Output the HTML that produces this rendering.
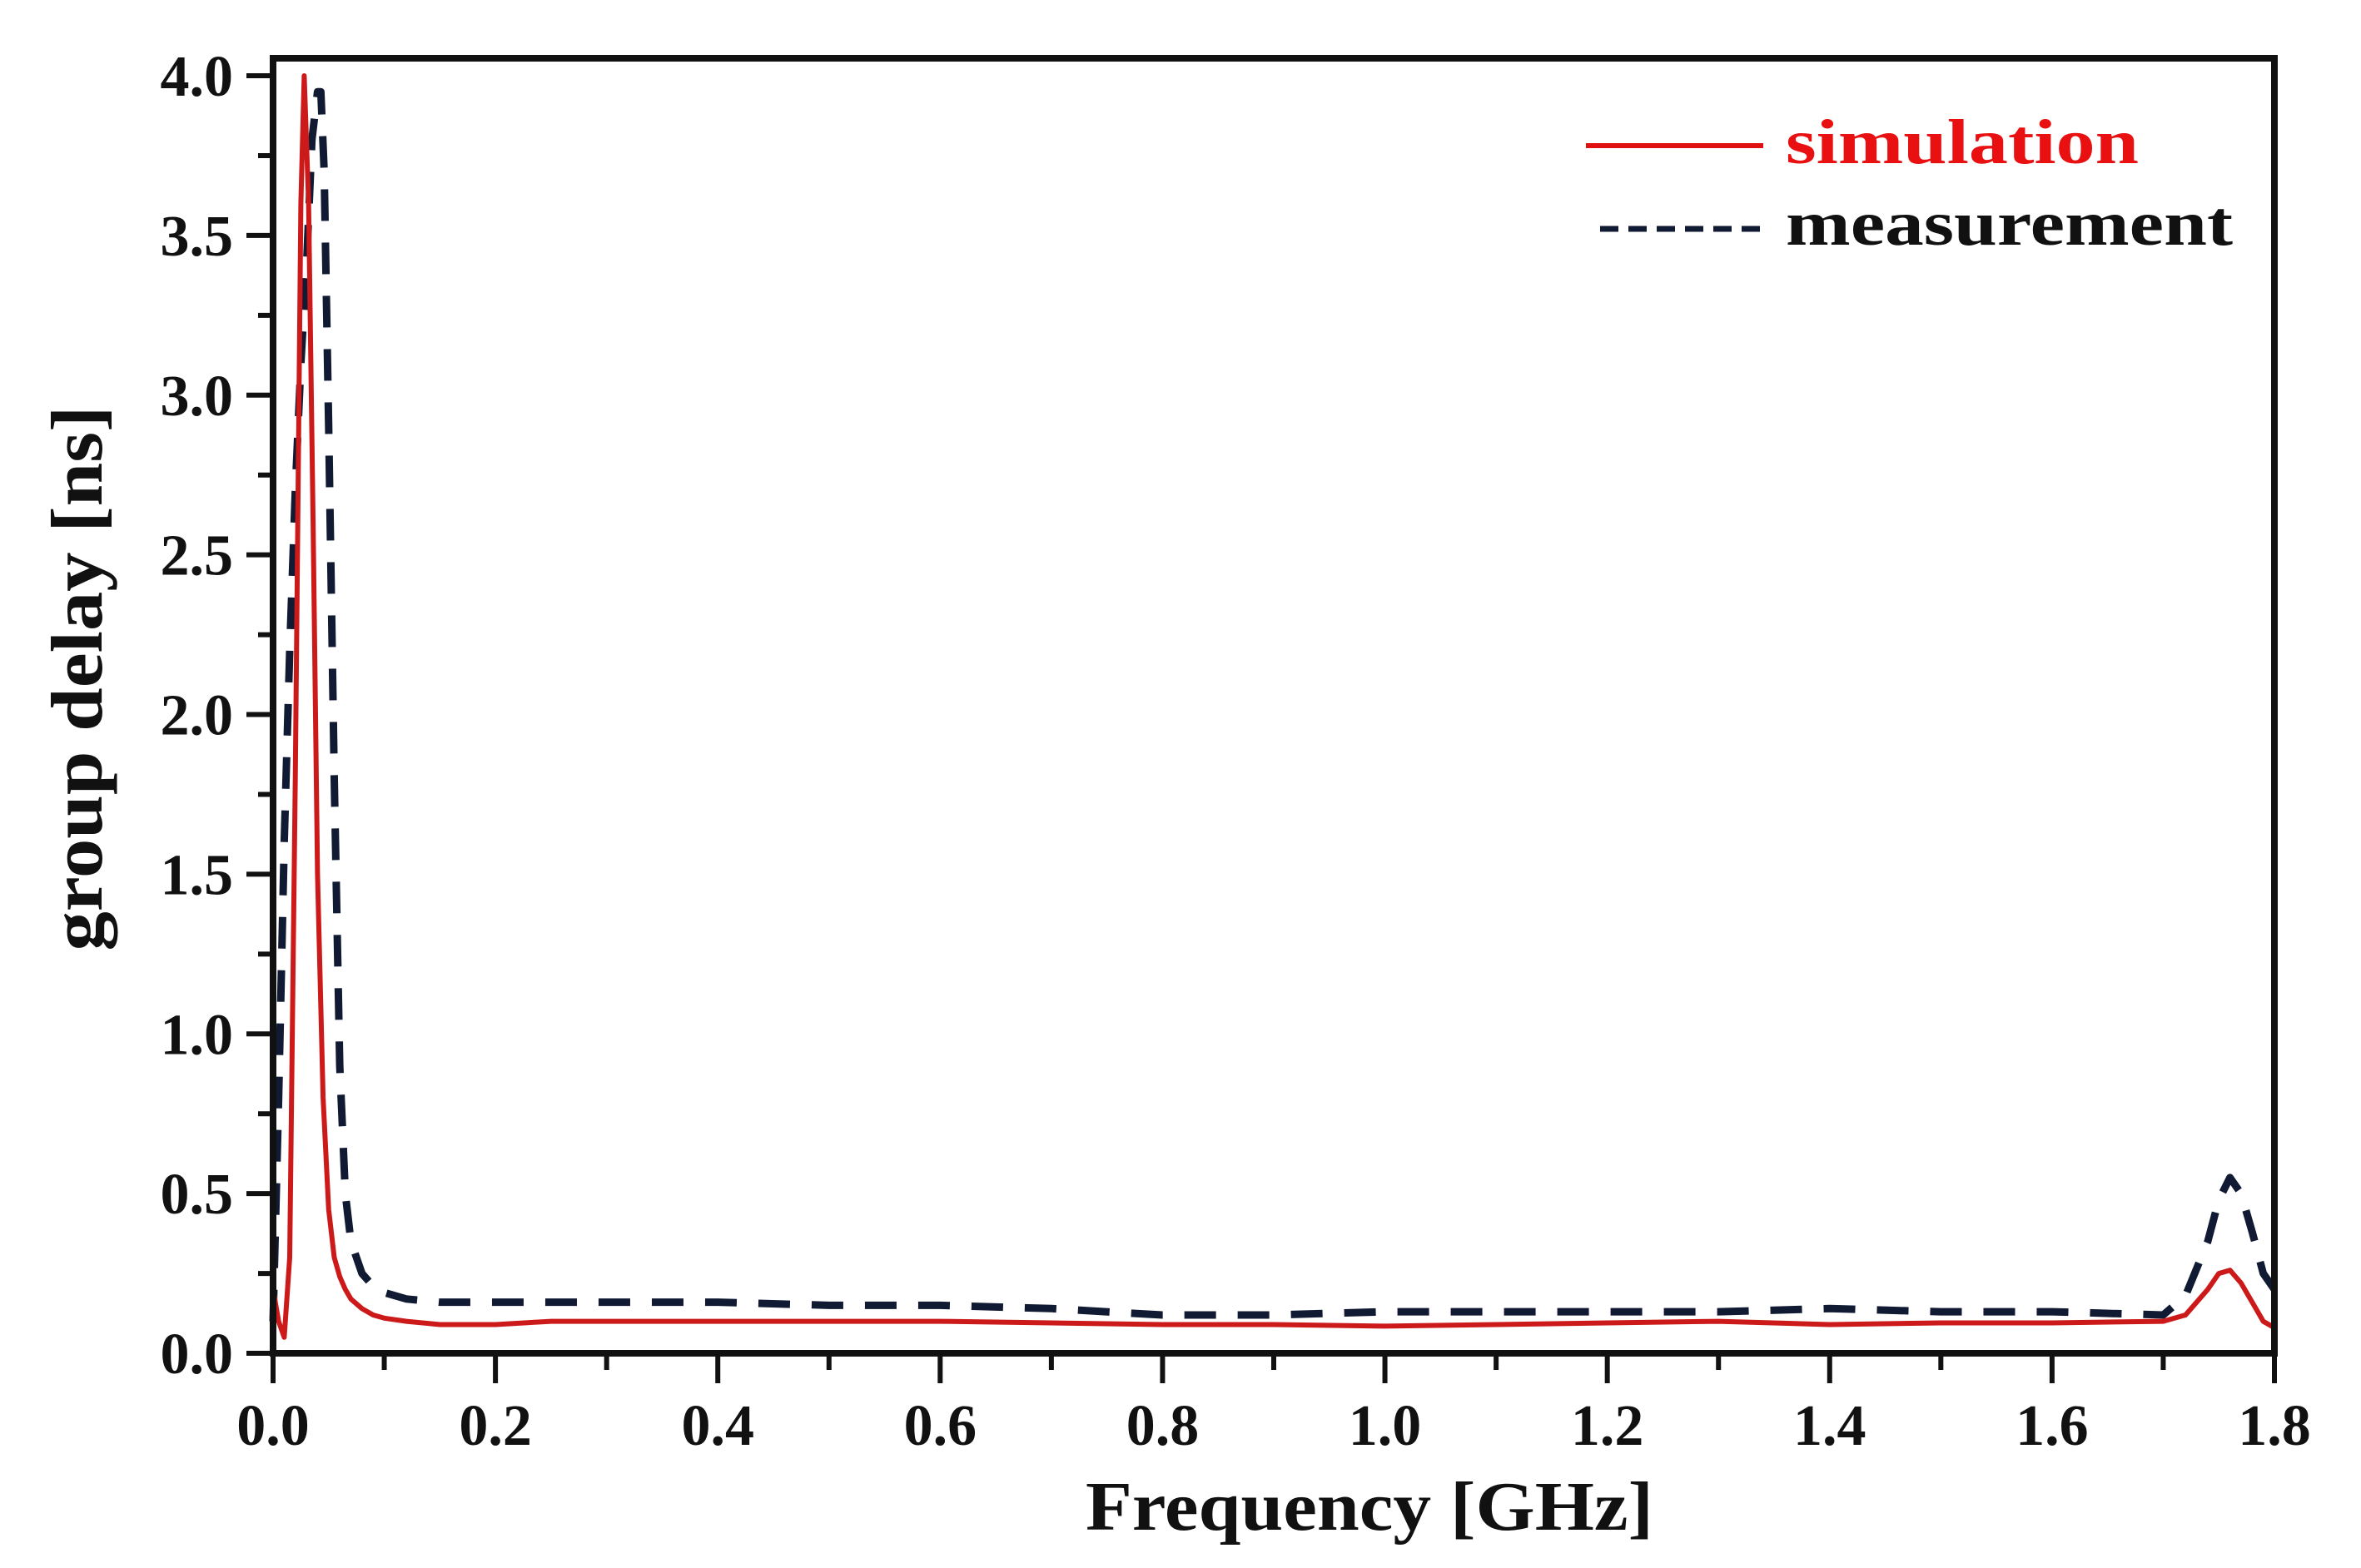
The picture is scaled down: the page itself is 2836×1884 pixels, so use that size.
<!DOCTYPE html>
<html><head><meta charset="utf-8"><style>
html,body{margin:0;padding:0;background:#fff;}
svg{display:block;}
text{font-family:"Liberation Serif",serif;font-weight:bold;}
</style></head><body>
<svg id="chart" width="2836" height="1884" viewBox="0 0 2836 1884">
<g id="marks"></g>
<g id="axes"></g>
<g>
<line x1="1905" y1="175" x2="2118" y2="175" stroke="#e01010" stroke-width="6"/>
<text x="2145" y="196" font-size="76" textLength="424" lengthAdjust="spacingAndGlyphs" fill="#e81010">simulation</text>
<line x1="1922" y1="275" x2="2118" y2="275" stroke="#111a33" stroke-width="7" stroke-dasharray="22,12"/>
<text x="2145" y="294" font-size="76" textLength="537" lengthAdjust="spacingAndGlyphs" fill="#111">measurement</text>
</g>
<text x="1645" y="1838" font-size="84" text-anchor="middle" textLength="682" lengthAdjust="spacingAndGlyphs" fill="#111">Frequency [GHz]</text>
<text transform="translate(122,815) rotate(-90)" font-size="88" text-anchor="middle" textLength="655" lengthAdjust="spacingAndGlyphs" fill="#111">group delay [ns]</text>
</svg>
<script>
const xTicks=[0,0.2,0.4,0.6,0.8,1.0,1.2,1.4,1.6,1.8];
const yTicks=[0,0.5,1.0,1.5,2.0,2.5,3.0,3.5,4.0];
const simX=[0,0.005,0.01,0.015,0.02,0.025,0.028,0.032,0.036,0.04,0.045,0.05,0.055,0.06,0.065,0.07,0.08,0.09,0.1,0.12,0.15,0.2,0.25,0.3,0.4,0.5,0.6,0.7,0.8,0.9,1.0,1.1,1.2,1.3,1.4,1.5,1.6,1.7,1.72,1.74,1.75,1.76,1.77,1.78,1.79,1.8];
const simY=[0.2,0.1,0.05,0.3,1.8,3.6,4.0,3.6,2.6,1.5,0.8,0.45,0.3,0.24,0.2,0.17,0.14,0.12,0.11,0.1,0.09,0.09,0.1,0.1,0.1,0.1,0.1,0.095,0.09,0.09,0.085,0.09,0.095,0.1,0.09,0.095,0.095,0.1,0.12,0.2,0.25,0.26,0.22,0.16,0.1,0.08];
const measX=[0,0.005,0.01,0.015,0.02,0.025,0.03,0.035,0.04,0.043,0.046,0.05,0.055,0.06,0.065,0.07,0.08,0.09,0.1,0.12,0.15,0.2,0.3,0.4,0.5,0.6,0.7,0.8,0.9,1.0,1.1,1.2,1.3,1.4,1.5,1.6,1.7,1.72,1.74,1.75,1.76,1.77,1.78,1.79,1.8];
const measY=[0.1,0.8,1.6,2.2,2.7,3.1,3.4,3.8,3.95,3.95,3.7,2.9,1.8,0.9,0.5,0.35,0.25,0.21,0.19,0.17,0.16,0.16,0.16,0.16,0.15,0.15,0.14,0.12,0.12,0.13,0.13,0.13,0.13,0.14,0.13,0.13,0.12,0.18,0.35,0.48,0.55,0.5,0.38,0.25,0.2];
const X0=328,X1=2732,Y0=1626,Y1=91,TOP=70;
const xs=v=>X0+(v-0)/(1.8-0)*(X1-X0);
const ys=v=>Y0-(v-0)/(4-0)*(Y0-Y1);
const NS='http://www.w3.org/2000/svg';
function mk(tag,attrs,parent){const e=document.createElementNS(NS,tag);for(const k in attrs)e.setAttribute(k,attrs[k]);parent.appendChild(e);return e;}
const marks=document.getElementById('marks'),axes=document.getElementById('axes');
function pathOf(X,Y){return X.map((x,i)=>(i?'L':'M')+xs(x).toFixed(1)+','+ys(Y[i]).toFixed(1)).join(' ');}
const m=mk('path',{d:pathOf(measX,measY),fill:'none',stroke:'#111a33','stroke-width':9,'stroke-dasharray':'38,26','stroke-linejoin':'round'},marks);


const s=mk('path',{d:pathOf(simX,simY),fill:'none',stroke:'#cc1a1a','stroke-width':6,'stroke-linejoin':'round'},marks);


const f=mk('rect',{x:X0,y:TOP,width:X1-X0,height:Y0-TOP,fill:'none',stroke:'#111','stroke-width':8},axes);


xTicks.forEach((t,i)=>{
 const x=xs(t);
 const l=mk('line',{x1:x,y1:Y0,x2:x,y2:Y0+36,stroke:'#111','stroke-width':6},axes);
 
 
 if(i<xTicks.length-1){const mx=xs(t+0.1);const ml=mk('line',{x1:mx,y1:Y0,x2:mx,y2:Y0+20,stroke:'#111','stroke-width':6},axes);
 
 }
 const tx=mk('text',{x:x,y:Y0+110,'font-size':70,'text-anchor':'middle',fill:'#111'},axes);
 tx.textContent=t.toFixed(1);
 
 
});
yTicks.forEach((t,i)=>{
 const y=ys(t);
 const l=mk('line',{x1:X0-32,y1:y,x2:X0,y2:y,stroke:'#111','stroke-width':6},axes);
 
 
 if(i<yTicks.length-1){const my=ys(t+0.25);const ml=mk('line',{x1:X0-18,y1:my,x2:X0,y2:my,stroke:'#111','stroke-width':6},axes);
 
 }
 const tx=mk('text',{x:X0-48,y:y+24,'font-size':70,'text-anchor':'end',fill:'#111'},axes);
 tx.textContent=t.toFixed(1);
 
 
});
</script>
</body></html>
